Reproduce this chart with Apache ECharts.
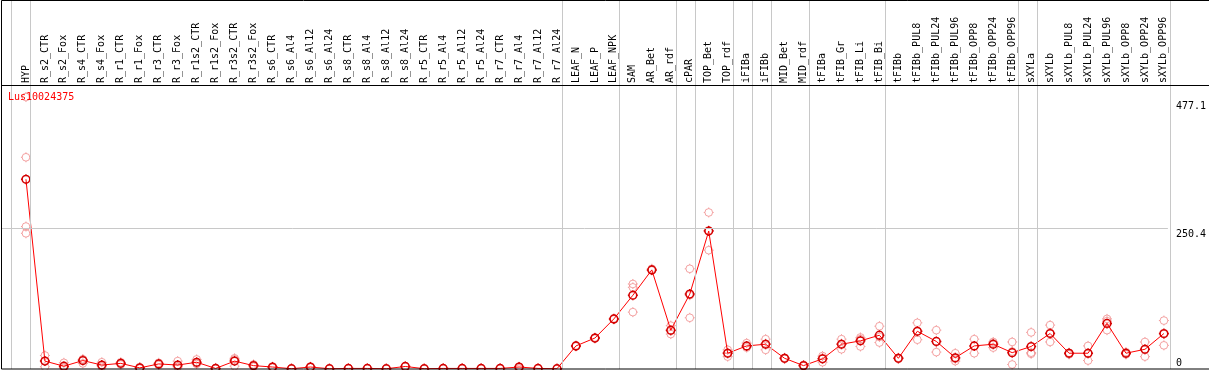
<!DOCTYPE html>
<html>
<head>
<meta charset="utf-8">
<script src="https://cdn.jsdelivr.net/npm/echarts@6/dist/echarts.min.js"></script>
<style>
  html, body { margin: 0; padding: 0; background: #fff; }
  #chart { width: 1209px; height: 370px; }
</style>
</head>
<body>
<div id="chart"></div>
<script>
const categories = [
  "HYP", "R_s2_CTR", "R_s2_Fox", "R_s4_CTR", "R_s4_Fox", "R_r1_CTR", "R_r1_Fox",
  "R_r3_CTR", "R_r3_Fox", "R_r1s2_CTR", "R_r1s2_Fox", "R_r3s2_CTR", "R_r3s2_Fox",
  "R_s6_CTR", "R_s6_Al4", "R_s6_Al12", "R_s6_Al24", "R_s8_CTR", "R_s8_Al4",
  "R_s8_Al12", "R_s8_Al24", "R_r5_CTR", "R_r5_Al4", "R_r5_Al12", "R_r5_Al24",
  "R_r7_CTR", "R_r7_Al4", "R_r7_Al12", "R_r7_Al24", "LEAF_N", "LEAF_P", "LEAF_NPK",
  "SAM", "AR_Bet", "AR_rdf", "cPAR", "TOP_Bet", "TOP_rdf", "iFIBa", "iFIBb",
  "MID_Bet", "MID_rdf", "tFIBa", "tFIB_Gr", "tFIB_Li", "tFIB_Bi", "tFIBb",
  "tFIBb_PUL8", "tFIBb_PUL24", "tFIBb_PUL96", "tFIBb_OPP8", "tFIBb_OPP24", "tFIBb_OPP96",
  "sXYLa", "sXYLb", "sXYLb_PUL8", "sXYLb_PUL24", "sXYLb_PUL96", "sXYLb_OPP8",
  "sXYLb_OPP24", "sXYLb_OPP96"
];

// mean expression per sample
const meanValues = [
  337, 14, 5, 15, 7, 10, 2, 9, 7, 12, 1, 14, 6,
  3.5, 0.5, 3.5, 0.5, 1, 1, 0.5, 4.5, 0.5, 1, 1, 1, 1, 3.5, 1, 0.5,
  41, 55, 89, 131, 176, 69, 133, 245, 28, 41, 44, 19, 6,
  18, 44, 50, 60, 19, 67, 49, 20, 41, 44, 29,
  40, 63, 28, 28, 81, 28, 35, 63
];

// replicates
const rep1 = [
  376, 24, 11, 17, 12, 12, 3, 11, 14, 17, 2, 17, 8,
  4, 1, 4, 1, 1.5, 1.5, 1, 5, 1, 1.5, 1.5, 1.5, 1.5, 4, 1.5, 1,
  40, 54, 88, 151, 178, 77, 178, 278, 34, 46, 53, 20, 7,
  23, 53, 56, 76, 20, 82, 69, 28, 53, 48, 48,
  65, 78, 29, 41, 89, 30, 48, 86
];
const rep2 = [
  253, 4, 4, 10, 4, 8, 1, 7, 4, 10, 1, 5, 4,
  2, 0, 3, 0, 0.5, 0.5, 0, 4, 0, 0.5, 0.5, 0.5, 0.5, 3, 0.5, 0,
  42, 56, 90, 145, 175, 62, 91, 211, 22, 38, 34, 18, 5,
  12, 35, 40, 47, 18, 52, 30, 14, 28, 38, 8,
  29, 48, 26, 15, 69, 26, 22, 42
];
const rep3 = [
  241, 14, 2, 17, 6, 10, 1, 9, 4, 9, 0, 19, 6,
  3, 0.5, 3, 0.5, 1, 1, 0.5, 4, 0.5, 1, 1, 1, 1, 0.5, 1, 0.5,
  41, 55, 89, 101, 176, 68, 131, 246, 29, 40, 45, 19, 6,
  19, 45, 53, 57, 19, 67, 49, 18, 41, 46, 31,
  27, 64, 28, 28, 85, 28, 35, 62
];
const rep4 = [483];

const yLabels = [0, 250.4, 477.1];
const refLine = 250.4;
// last index of each sample group (-1 = left edge)
const groupEnds = [-1, 0, 28, 31, 34, 35, 37, 38, 39, 41, 45, 52, 53, 60];

const xMin = -25 / 19;
const xMax = 1144 / 19;
const sepOffset = 4 / 19;
const yMax = 502.6;

const FONT = "DejaVu Sans Mono";
const markerPath = "path://M0,-4A4,4 0 1,1 0,4A4,4 0 1,1 0,-4Z M0,-5.2L0,-4 M0,4L0,5.2 M-5.2,0L-4,0 M4,0L5.2,0";

const repData = [];
[rep1, rep2, rep3, rep4].forEach((arr) => {
  arr.forEach((v, i) => {
    if (v != null) repData.push([i, v]);
  });
});

const chart = echarts.init(document.getElementById("chart"));

const option = {
  animation: false,
  title: {
    text: "Lus10024375",
    left: 8,
    top: 92,
    padding: 0,
    textStyle: { color: "#ff0000", fontSize: 10, fontWeight: "normal", fontFamily: FONT },
  },
  graphic: [
    {
      type: "rect",
      shape: { x: 1.5, y: 0.5, width: 1300, height: 368.5 },
      style: { fill: "none", stroke: "#000", lineWidth: 1 },
      z: 100,
      silent: true,
    },
    {
      type: "line",
      shape: { x1: 1, y1: 85.5, x2: 1209, y2: 85.5 },
      style: { stroke: "#000", lineWidth: 1 },
      z: 100,
      silent: true,
    },
  ],
  grid: [
    { left: 1, right: 39, top: 0, bottom: 1 },
    { left: 1, right: 39, top: 86, bottom: 1 },
  ],
  xAxis: [
    {
      gridIndex: 0,
      type: "value",
      min: xMin,
      max: xMax,
      show: false,
    },
    {
      gridIndex: 1,
      type: "value",
      position: "top",
      min: xMin,
      max: xMax,
      axisLine: { show: false },
      axisTick: { show: false },
      splitLine: { show: false },
      axisLabel: {
        customValues: categories.map((c, i) => i),
        formatter: (v) => categories[Math.round(v)] || "",
        rotate: 90,
        margin: 3,
        color: "#000",
        fontSize: 10,
        fontFamily: FONT,
      },
    },
  ],
  yAxis: [
    { gridIndex: 0, type: "value", min: 0, max: 1, show: false },
    {
      gridIndex: 1,
      type: "value",
      position: "right",
      min: 0,
      max: yMax,
      axisLine: { show: false },
      axisTick: { show: false },
      splitLine: { show: false },
      axisLabel: {
        customValues: yLabels,
        margin: 8,
        color: "#000",
        fontSize: 10,
        fontFamily: FONT,
        verticalAlign: "middle",
        formatter: (v) => (v === 0 ? "{z|" + v + "}" : "{t|" + v + "}"),
        rich: {
          z: { padding: [0, 0, 12, 0], fontSize: 10, fontFamily: FONT, color: "#000" },
          t: { padding: [12, 0, 0, 0], fontSize: 10, fontFamily: FONT, color: "#000" },
        },
      },
    },
  ],
  series: [
    {
      name: "groups",
      type: "line",
      xAxisIndex: 0,
      yAxisIndex: 0,
      data: [],
      silent: true,
      markLine: {
        silent: true,
        symbol: "none",
        label: { show: false },
        lineStyle: { color: "#c8c8c8", width: 1, type: "solid" },
        data: groupEnds.map((g) => ({ xAxis: g + sepOffset })),
      },
    },
    {
      name: "replicates",
      type: "scatter",
      xAxisIndex: 1,
      yAxisIndex: 1,
      data: repData,
      symbol: markerPath,
      symbolSize: 10,
      itemStyle: { color: "transparent", borderColor: "#f08c8c", borderWidth: 1 },
      z: 2,
    },
    {
      name: "mean",
      type: "line",
      xAxisIndex: 1,
      yAxisIndex: 1,
      data: meanValues.map((v, i) => [i, v]),
      symbol: markerPath,
      symbolSize: 10,
      showAllSymbol: true,
      lineStyle: { color: "#ff0000", width: 1 },
      itemStyle: { color: "transparent", borderColor: "#d40000", borderWidth: 1.5 },
      z: 3,
      markLine: {
        silent: true,
        symbol: "none",
        label: { show: false },
        lineStyle: { color: "#c8c8c8", width: 1, type: "solid" },
        data: [{ yAxis: refLine }],
      },
    },
  ],
};

chart.setOption(option);
</script>
</body>
</html>
